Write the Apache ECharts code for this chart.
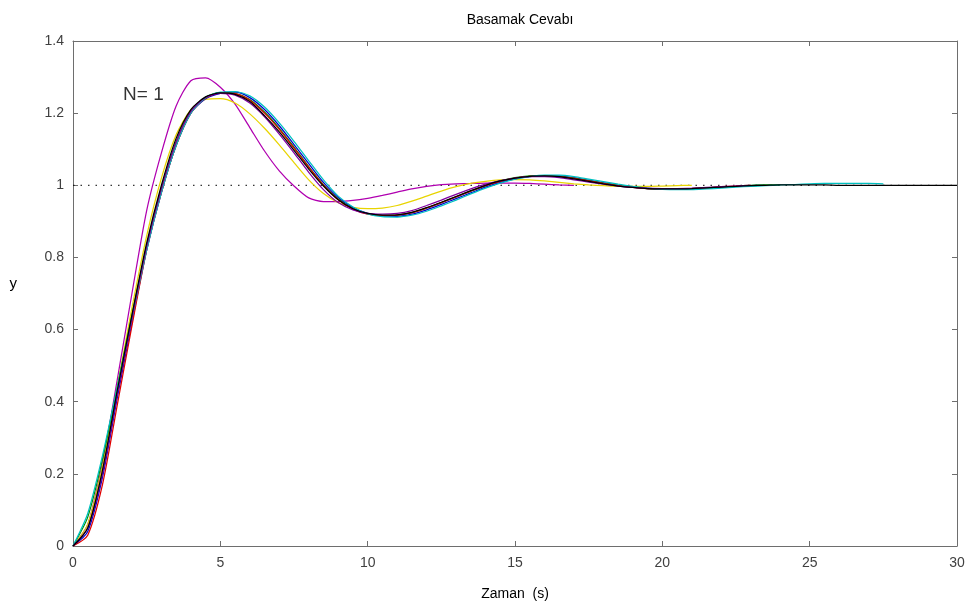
<!DOCTYPE html>
<html>
<head>
<meta charset="utf-8">
<script src="https://cdn.jsdelivr.net/npm/echarts@6/dist/echarts.min.js"></script>
<style>
  html, body { margin: 0; padding: 0; background: #ffffff; }
  #grafik { width: 971px; height: 612px; }
</style>
</head>
<body>
<div id="grafik"></div>
<script>
// Zaman ekseni (s): 0.5 s aralıklı örnekler
const zaman = [];
for (let i = 0; i <= 60; i++) zaman.push(i * 0.5);

// Basamak cevapları (her eğri kendi bitiş zamanına kadar)
const yN1 = [0, 0.06, 0.23, 0.46, 0.70, 0.93, 1.09, 1.22, 1.29, 1.298, 1.272, 1.225, 1.16, 1.095, 1.04, 0.998, 0.965, 0.955, 0.955, 0.958, 0.964, 0.972, 0.981, 0.99, 0.997, 1.002, 1.004, 1.005, 1.006, 1.006, 1.006, 1.005, 1.003, 1.001, 1.0];
const ySari = [0, 0.06, 0.22, 0.44, 0.66, 0.86, 1.02, 1.14, 1.21, 1.238, 1.24, 1.228, 1.198, 1.158, 1.112, 1.063, 1.015, 0.977, 0.952, 0.939, 0.935, 0.937, 0.944, 0.956, 0.97, 0.984, 0.996, 1.005, 1.011, 1.015, 1.016, 1.015, 1.012, 1.008, 1.004, 1.001, 0.999, 0.997, 0.997, 0.997, 0.998, 0.999, 1.0];
const yMavi = [0, 0.04, 0.19, 0.41, 0.62, 0.82, 0.98, 1.11, 1.2, 1.24, 1.255, 1.258, 1.243, 1.21, 1.165, 1.113, 1.06, 1.008, 0.966, 0.938, 0.922, 0.915, 0.914, 0.92, 0.932, 0.947, 0.963, 0.979, 0.995, 1.008, 1.018, 1.024, 1.027, 1.026, 1.021, 1.014, 1.007, 1.0, 0.995, 0.991, 0.989, 0.989, 0.99, 0.992, 0.994, 0.997, 0.999, 1.0];
const yYesil = [0, 0.08, 0.24, 0.44, 0.64, 0.83, 0.99, 1.12, 1.205, 1.245, 1.257, 1.255, 1.238, 1.203, 1.158, 1.106, 1.052, 1.002, 0.962, 0.935, 0.921, 0.916, 0.917, 0.924, 0.937, 0.952, 0.968, 0.984, 0.999, 1.012, 1.021, 1.026, 1.027, 1.025, 1.02, 1.013, 1.006, 1.0, 0.995, 0.991, 0.99, 0.99, 0.991, 0.993, 0.995, 0.998, 1.0, 1.001, 1.001];
const yKirmizi = [0, 0.03, 0.17, 0.39, 0.61, 0.82, 0.98, 1.11, 1.2, 1.242, 1.256, 1.254, 1.236, 1.2, 1.155, 1.103, 1.05, 1.0, 0.96, 0.934, 0.92, 0.916, 0.917, 0.924, 0.937, 0.952, 0.968, 0.984, 0.999, 1.011, 1.02, 1.025, 1.026, 1.024, 1.019, 1.012, 1.005, 0.999, 0.994, 0.991, 0.99, 0.99, 0.991, 0.993, 0.996, 0.998, 1.0];
const yCamgobegi = [0, 0.09, 0.25, 0.44, 0.63, 0.82, 0.98, 1.11, 1.2, 1.243, 1.258, 1.26, 1.248, 1.217, 1.173, 1.122, 1.068, 1.015, 0.97, 0.94, 0.921, 0.913, 0.912, 0.917, 0.928, 0.943, 0.959, 0.976, 0.992, 1.006, 1.017, 1.024, 1.028, 1.028, 1.024, 1.017, 1.01, 1.003, 0.997, 0.992, 0.989, 0.988, 0.988, 0.99, 0.992, 0.995, 0.997, 0.999, 1.001, 1.002, 1.004, 1.005, 1.005, 1.005, 1.005, 1.004];
const yMor = [0, 0.05, 0.2, 0.42, 0.63, 0.83, 0.99, 1.12, 1.205, 1.244, 1.255, 1.25, 1.228, 1.19, 1.142, 1.09, 1.036, 0.988, 0.952, 0.932, 0.922, 0.92, 0.922, 0.93, 0.944, 0.959, 0.975, 0.99, 1.003, 1.013, 1.02, 1.024, 1.024, 1.021, 1.015, 1.009, 1.003, 0.998, 0.994, 0.992, 0.991, 0.991, 0.992, 0.994, 0.996, 0.998, 1.0];
const ySiyah = [0, 0.05, 0.21, 0.43, 0.64, 0.84, 1.0, 1.13, 1.21, 1.245, 1.256, 1.252, 1.232, 1.193, 1.148, 1.097, 1.045, 0.998, 0.96, 0.935, 0.922, 0.917, 0.918, 0.925, 0.938, 0.953, 0.969, 0.985, 1.0, 1.012, 1.02, 1.025, 1.026, 1.024, 1.018, 1.011, 1.004, 0.998, 0.994, 0.991, 0.99, 0.99, 0.991, 0.993, 0.995, 0.997, 0.999, 1.0, 1.001, 1.001, 1.001, 1.001, 1.0, 1.0, 1.0, 1.0, 1.0, 1.0, 1.0, 1.0, 1.0];

// Son değer referansı
const referansZaman = [0, 30];
const referansDeger = [1, 1];

// Eksen bölmeleri
const xTikler = [0, 5, 10, 15, 20, 25, 30];
const yTikler = [0, 0.2, 0.4, 0.6, 0.8, 1, 1.2, 1.4];

const egriler = [
  { ad: 'N=1', veri: yN1, renk: '#b000b0' },
  { ad: 'sari', veri: ySari, renk: '#e8d400' },
  { ad: 'mavi', veri: yMavi, renk: '#0000d0' },
  { ad: 'yesil', veri: yYesil, renk: '#009000' },
  { ad: 'kirmizi', veri: yKirmizi, renk: '#e00000' },
  { ad: 'camgobegi', veri: yCamgobegi, renk: '#00c0c0' },
  { ad: 'mor', veri: yMor, renk: '#8000a0' },
  { ad: 'siyah', veri: ySiyah, renk: '#000000' }
];

const yaziTipi = '"Liberation Sans", Arial, sans-serif';
const cerceve = '#6e6e6e';

const seriler = [{
  type: 'line',
  name: 'referans',
  data: referansZaman.map((t, i) => [t, referansDeger[i]]),
  symbol: 'none',
  silent: true,
  z: 1,
  lineStyle: { color: '#000000', width: 1, type: [1.5, 6] }
}];

egriler.forEach((e, k) => {
  seriler.push({
    type: 'line',
    name: e.ad,
    data: e.veri.map((v, i) => [zaman[i], v]),
    symbol: 'none',
    smooth: 0.25,
    z: 2 + k,
    lineStyle: { color: e.renk, width: 1.25 }
  });
});

// "N= 1" etiketi, veri koordinatında
seriler.push({
  type: 'scatter',
  data: [[1.7, 1.25]],
  symbolSize: 0,
  silent: true,
  z: 20,
  label: {
    show: true,
    position: 'right',
    distance: 0,
    formatter: 'N= 1',
    color: '#000000',
    fontFamily: yaziTipi,
    fontSize: 19
  }
});

const eksenOrtak = {
  axisLine: { show: true, onZero: false, lineStyle: { color: cerceve, width: 1 } },
  axisTick: { show: true, inside: true, length: 5, lineStyle: { color: cerceve } },
  splitLine: { show: false }
};

const grafik = echarts.init(document.getElementById('grafik'), null, { renderer: 'canvas' });
grafik.setOption({
  animation: false,
  backgroundColor: '#ffffff',
  title: {
    text: 'Basamak Cevabı',
    left: 515,
    textAlign: 'center',
    top: 8,
    textStyle: { fontFamily: yaziTipi, fontSize: 14, fontWeight: 'normal', color: '#000000' }
  },
  grid: { left: 73, right: 14, top: 41, bottom: 66 },
  xAxis: [
    Object.assign({
      type: 'value', min: xTikler[0], max: xTikler[xTikler.length - 1], interval: 5,
      position: 'bottom',
      name: 'Zaman  (s)', nameLocation: 'middle', nameGap: 41,
      nameTextStyle: { fontFamily: yaziTipi, fontSize: 14, color: '#000000' },
      axisLabel: { margin: 10, fontFamily: yaziTipi, fontSize: 14, color: '#404040' }
    }, eksenOrtak),
    Object.assign({
      type: 'value', min: xTikler[0], max: xTikler[xTikler.length - 1], interval: 5,
      position: 'top', axisLabel: { show: false }
    }, eksenOrtak)
  ],
  yAxis: [
    Object.assign({
      type: 'value', min: yTikler[0], max: yTikler[yTikler.length - 1], interval: 0.2,
      position: 'left',
      name: 'y', nameLocation: 'middle', nameGap: 56, nameRotate: 0,
      nameTextStyle: { fontFamily: yaziTipi, fontSize: 15, color: '#000000', verticalAlign: 'bottom', padding: [0, 0, 2, 0] },
      axisLabel: { margin: 9, fontFamily: yaziTipi, fontSize: 14, color: '#404040',
        formatter: v => String(Math.round(v * 10) / 10) }
    }, eksenOrtak),
    Object.assign({
      type: 'value', min: yTikler[0], max: yTikler[yTikler.length - 1], interval: 0.2,
      position: 'right', axisLabel: { show: false }
    }, eksenOrtak)
  ],
  series: seriler
});
</script>
</body>
</html>
